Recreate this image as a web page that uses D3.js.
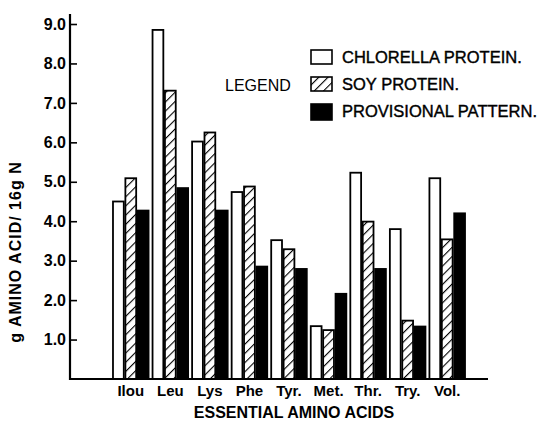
<!DOCTYPE html>
<html><head><meta charset="utf-8">
<script src="https://cdn.jsdelivr.net/npm/d3@7/dist/d3.min.js"></script>
<style>
body{margin:0;background:#fff;}
text{font-family:"Liberation Sans",Arial,sans-serif;fill:#000;}
</style></head>
<body><svg id="c" width="537" height="427"></svg>
<script>
const categories = ["Ilou","Leu","Lys","Phe","Tyr.","Met.","Thr.","Try.","Vol."];
const seriesNames = ["CHLORELLA PROTEIN.","SOY PROTEIN.","PROVISIONAL PATTERN."];
const chlorella = [4.5, 8.85, 6.02, 4.74, 3.52, 1.34, 5.23, 3.8, 5.09];
const soy = [5.09, 7.31, 6.25, 4.88, 3.29, 1.24, 3.99, 1.48, 3.54];
const provisional = [4.27, 4.84, 4.27, 2.85, 2.79, 2.16, 2.79, 1.33, 4.2];
const yTicks = [1,2,3,4,5,6,7,8,9];

const svg = d3.select("#c");
const defs = svg.append("defs");
const pat = defs.append("pattern").attr("id","hatch").attr("patternUnits","userSpaceOnUse")
  .attr("width",6.5).attr("height",6.5).attr("patternTransform","rotate(45)");
pat.append("rect").attr("width",6.5).attr("height",6.5).attr("fill","#fff");
pat.append("line").attr("x1",0).attr("y1",0).attr("x2",0).attr("y2",6.5)
  .attr("stroke","#000").attr("stroke-width",2.2);

const fills = ["#fff","url(#hatch)","#000"];
const series = [chlorella, soy, provisional];

const y = d3.scaleLinear().domain([0,9]).range([379,24]);
const x = d3.scaleBand().domain(categories).range([111,467]).paddingInner(0.06).paddingOuter(0.03);
const xs = d3.scaleBand().domain([0,1,2]).range([0,x.bandwidth()]);

const g = svg.append("g");
categories.forEach((c,i)=>{
  series.forEach((s,j)=>{
    g.append("rect")
      .attr("x", x(c)+xs(j)+0.8)
      .attr("y", y(s[i]))
      .attr("width", xs.bandwidth()-1.6)
      .attr("height", y(0)-y(s[i]))
      .attr("fill", fills[j])
      .attr("stroke","#000").attr("stroke-width",1.8);
  });
});

// axes
const ya = svg.append("g").attr("transform","translate(70,0)")
  .call(d3.axisLeft(y).tickValues(yTicks).tickFormat(d3.format(".1f")).tickSize(-7).tickPadding(4));
ya.select(".domain").remove();
ya.selectAll(".tick line").attr("stroke","#000").attr("stroke-width",1.6);
ya.selectAll(".tick text").attr("font-size",16).attr("font-weight","bold")
  .style("font-family","'Liberation Sans',Arial,sans-serif");
svg.append("line").attr("x1",70).attr("x2",70).attr("y1",14).attr("y2",380)
  .attr("stroke","#000").attr("stroke-width",2.2);
svg.append("line").attr("x1",69).attr("x2",488).attr("y1",379).attr("y2",379)
  .attr("stroke","#000").attr("stroke-width",2.2);

const xa = svg.append("g").attr("transform","translate(0,379)")
  .call(d3.axisBottom(x).tickSize(0).tickPadding(6));
xa.select(".domain").remove();
xa.selectAll(".tick text").attr("font-size",15).attr("font-weight","bold")
  .style("font-family","'Liberation Sans',Arial,sans-serif");

svg.append("text").attr("x",294).attr("y",418).attr("text-anchor","middle")
  .attr("font-size",16).attr("font-weight","bold").text("ESSENTIAL AMINO ACIDS");
svg.append("text").attr("transform","translate(21,252) rotate(-90)").attr("text-anchor","middle")
  .attr("font-size",16).attr("font-weight","bold").attr("letter-spacing",1).text("g AMINO ACID/ 16g N");

// legend
svg.append("text").attr("x",225).attr("y",91).attr("font-size",16).text("LEGEND");
const ly = [50,77,104];
seriesNames.forEach((n,j)=>{
  svg.append("rect").attr("x",311).attr("y",ly[j]).attr("width",21).attr("height",j==2?16:14)
    .attr("fill",fills[j]).attr("stroke","#000").attr("stroke-width",1.6);
  svg.append("text").attr("x",342).attr("y",ly[j]+13).attr("font-size",16.5)
    .attr("stroke","#000").attr("stroke-width",0.4).text(n);
});
</script></body></html>
